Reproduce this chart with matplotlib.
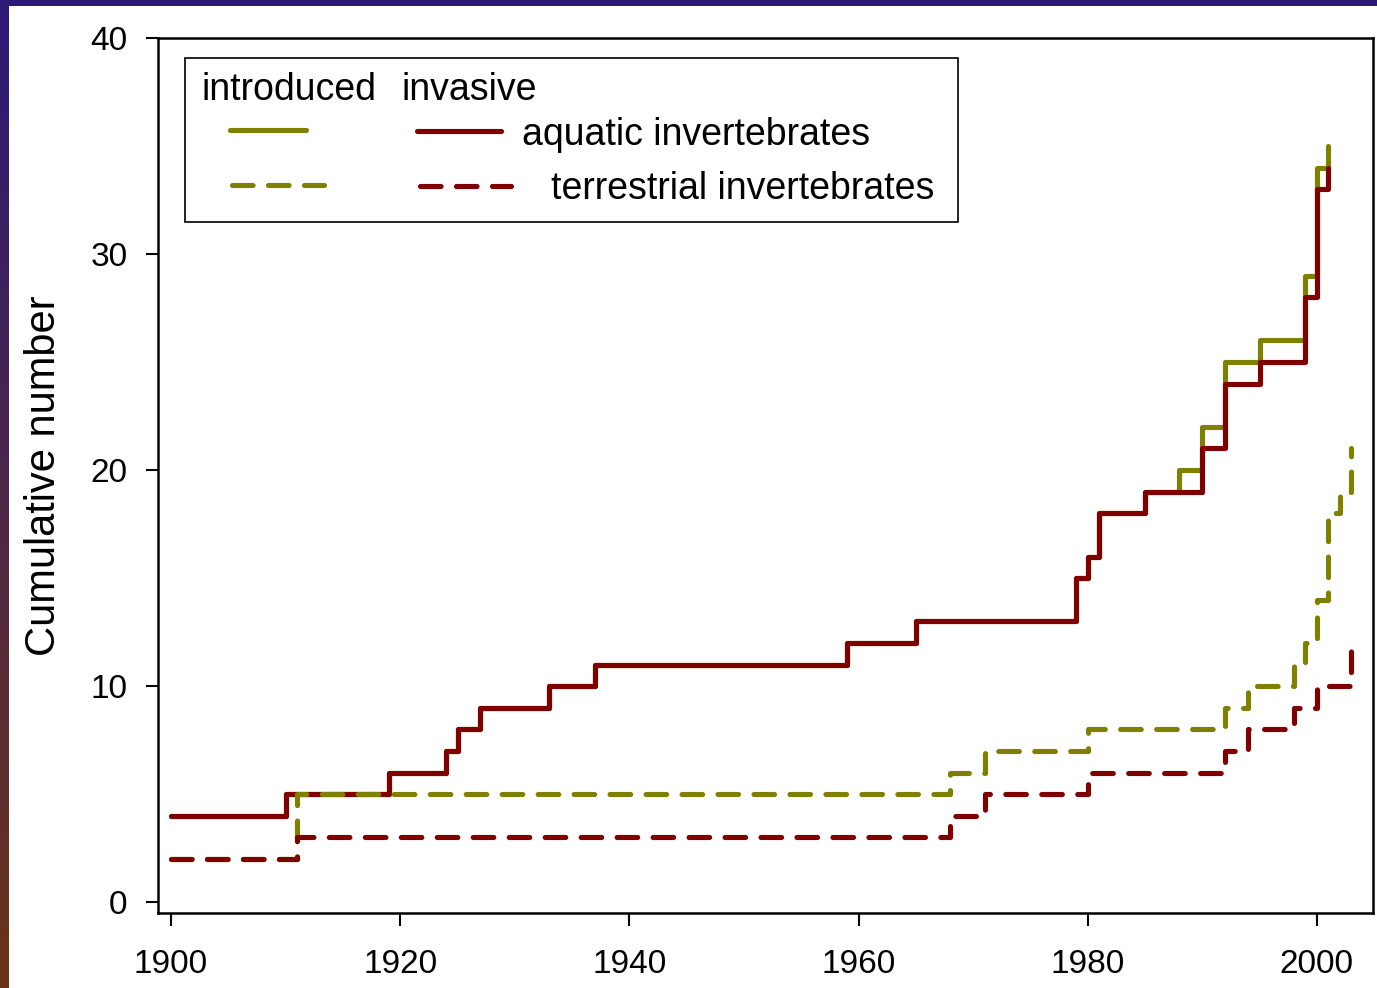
import numpy as np
import matplotlib
matplotlib.use('Agg')
import matplotlib.pyplot as plt
from matplotlib.patches import Rectangle

plt.rcParams['font.family'] = ['Liberation Sans', 'DejaVu Sans']

# cumulative counts per year (step data)
aq_inv_years = [1900, 1910, 1919, 1924, 1925, 1927, 1933, 1937, 1959, 1965,
                1979, 1980, 1981, 1985, 1990, 1992, 1995, 1999, 2000, 2001]
aq_inv_vals = [4, 5, 6, 7, 8, 9, 10, 11, 12, 13,
               15, 16, 18, 19, 21, 24, 25, 28, 33, 34]

aq_int_years = [1900, 1910, 1919, 1924, 1925, 1927, 1933, 1937, 1959, 1965,
                1979, 1980, 1981, 1985, 1988, 1990, 1992, 1995, 1999, 2000, 2001]
aq_int_vals = [4, 5, 6, 7, 8, 9, 10, 11, 12, 13,
               15, 16, 18, 19, 20, 22, 25, 26, 29, 34, 35]

te_int_years = [1900, 1911, 1968, 1971, 1980, 1992, 1994, 1998, 1999, 2000, 2001, 2002, 2003]
te_int_vals = [2, 5, 6, 7, 8, 9, 10, 11, 12, 14, 18, 19, 21]

te_inv_years = [1900, 1911, 1968, 1971, 1980, 1992, 1994, 1998, 2000, 2003]
te_inv_vals = [2, 3, 4, 5, 6, 7, 8, 9, 10, 12]

olive = '#808000'
maroon = '#800000'
lw = 3.7
dash = (0, (4, 3))

fig = plt.figure(figsize=(13.77, 9.88), dpi=100)
fig.patch.set_facecolor('white')

# gradient frame on the left and top
grad = fig.add_axes([0, 0, 9 / 1377, 1])
c_top = np.array([0x2d, 0x1a, 0x78]) / 255
c_bot = np.array([0x6b, 0x34, 0x18]) / 255
t = np.linspace(0, 1, 256)[:, None]
img = (c_top * (1 - t) + c_bot * t)[:, None, :]
grad.imshow(img, aspect='auto', extent=[0, 1, 0, 1])
grad.set_axis_off()
fig.add_artist(Rectangle((0, 1 - 6 / 988), 1, 6 / 988, transform=fig.transFigure,
                         facecolor='#2d1a78', edgecolor='none'))

ax = fig.add_axes([158 / 1377, 1 - 913 / 988, (1373 - 158) / 1377, (913 - 38) / 988])

ax.plot(aq_int_years, aq_int_vals, drawstyle='steps-post', color=olive, lw=lw,
        solid_capstyle='round')
ax.plot(aq_inv_years, aq_inv_vals, drawstyle='steps-post', color=maroon, lw=lw,
        solid_capstyle='round')
ax.plot(te_int_years, te_int_vals, drawstyle='steps-post', color=olive, lw=lw,
        linestyle=dash, dash_capstyle='round')
ax.plot(te_inv_years, te_inv_vals, drawstyle='steps-post', color=maroon, lw=lw,
        linestyle=dash, dash_capstyle='round')

ax.set_xlim(1898.86, 2004.9)
ax.set_ylim(-0.5, 40)
ax.set_xticks([1900, 1920, 1940, 1960, 1980, 2000])
ax.set_yticks([0, 10, 20, 30, 40])
for s in ax.spines.values():
    s.set_linewidth(1.8)
ax.tick_params(labelsize=24, length=9, width=1.5)
ax.tick_params(axis='x', pad=17)
ax.tick_params(axis='y', pad=13)
ax.set_ylabel('Cumulative number', fontsize=30)
ax.yaxis.set_label_coords(-0.077, 0.5)

# legend drawn by hand
def px(x, y):
    return ((x - 158) / 1215, (913 - y) / 875)

x0, y0 = px(185, 222)
x1, y1 = px(958, 58)
ax.add_patch(Rectangle((x0, y0), x1 - x0, y1 - y0, transform=ax.transAxes,
                       facecolor='white', edgecolor='black', lw=1.2, zorder=5))
for (xa, xb, yy, col, ls) in [(230, 306, 130, olive, '-'), (417, 501, 131, maroon, '-'),
                              (232, 324, 185, olive, dash), (420, 511, 186, maroon, dash)]:
    (ax1, ay), (ax2, _) = px(xa, yy), px(xb, yy)
    ax.plot([ax1, ax2], [ay, ay], transform=ax.transAxes, color=col, lw=lw, ls=ls,
            solid_capstyle='round', dash_capstyle='round', zorder=6)
for (xx, yy, s) in [(202, 100, 'introduced'), (402, 100, 'invasive'),
                    (522, 145, 'aquatic invertebrates'), (551, 199, 'terrestrial invertebrates')]:
    tx, ty = px(xx, yy)
    ax.text(tx, ty, s, transform=ax.transAxes, fontsize=27, ha='left', va='baseline', zorder=7)

fig.savefig('out.png', dpi=100)
